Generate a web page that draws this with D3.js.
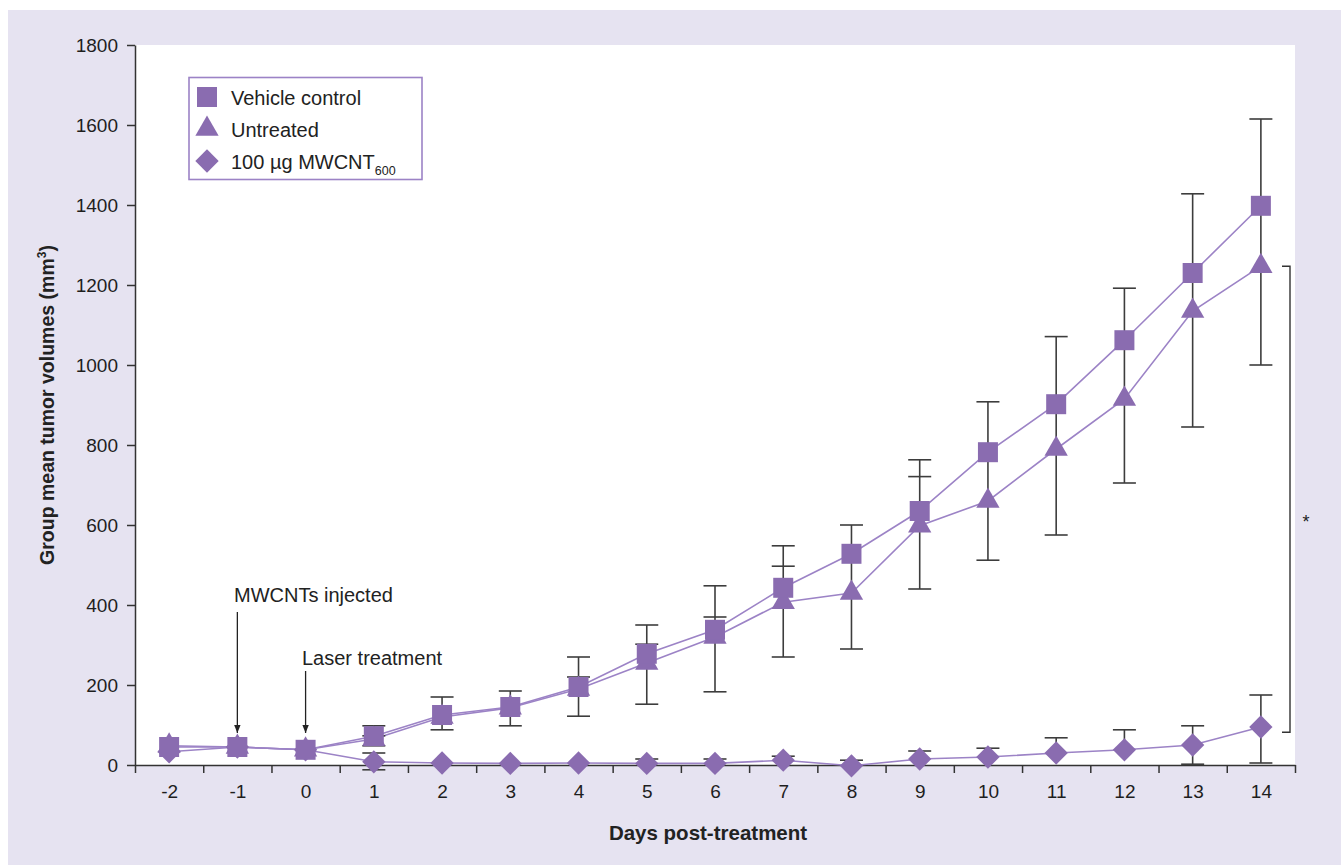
<!DOCTYPE html>
<html>
<head>
<meta charset="utf-8">
<script src="https://cdn.jsdelivr.net/npm/d3@7"></script>
<style>
  html, body { margin: 0; padding: 0; background: #ffffff; }
  svg { display: block; }
  text { font-family: "Liberation Sans", Arial, Helvetica, sans-serif; }
</style>
</head>
<body>
<svg id="chart" width="1341" height="865"></svg>
<script>
// ---------- DATA ----------
const days = [-2, -1, 0, 1, 2, 3, 4, 5, 6, 7, 8, 9, 10, 11, 12, 13, 14];
const yTicks = [0, 200, 400, 600, 800, 1000, 1200, 1400, 1600, 1800];

const vehicle   = [45, 45, 38, 72, 125, 145, 195, 278, 338, 443, 528, 635, 782, 902, 1062, 1230, 1398];
const untreated = [48, 45, 38, 65, 120, 143, 190, 255, 320, 407, 430, 598, 660, 790, 915, 1135, 1247];
const mwcnt     = [33, 45, 38, 8, 5, 4, 5, 4, 4, 12, -2, 15, 20, 30, 38, 50, 95];

// error-bar bounds (absolute mm³); null = not shown
const vehicleHigh   = [null, null, null, 98, 170, 185, 270, 350, 448, 548, 600, 763, 908, 1071, 1192, 1428, 1615];
const untreatedHigh = [null, null, null, 73, null, null, 220, 302, 370, 497, null, 721, null, null, null, null, null];
const untreatedLow  = [null, null, null, 48, 88, 98, 122, 152, 183, 270, 290, 440, 512, 575, 705, 845, 1000];
const mwcntHigh     = [null, null, null, 30, null, null, null, 15, 15, 22, 12, 35, 42, 68, 88, 98, 175];
const mwcntLow      = [null, null, null, -12, null, null, null, null, null, null, null, null, null, null, null, 2, 5];

const legendLabels = ["Vehicle control", "Untreated", "100 µg MWCNT"];
const bracketRange = [82, 1247];

// ---------- LAYOUT ----------
const svg = d3.select("#chart");
const W = 1341, H = 865;
const pLeft = 135, pRight = 1295, pTop = 45, pBottom = 765;
const purple = "#8a6cb0";
const lineColor = "#9c83c6";
const ink = "#333333";

svg.append("rect").attr("x", 8).attr("y", 10).attr("width", W - 8).attr("height", H - 10).attr("fill", "#e6e3f1");
svg.append("rect").attr("x", pLeft).attr("y", pTop).attr("width", pRight - pLeft).attr("height", pBottom - pTop).attr("fill", "#ffffff");

const x = d3.scaleLinear().domain([-2.5, 14.5]).range([pLeft, pRight]);
const y = d3.scaleLinear().domain([0, 1800]).range([pBottom, pTop]);

// ---------- AXES ----------
const yAxis = d3.axisLeft(y).tickValues(yTicks).tickSize(8).tickSizeOuter(0).tickPadding(9).tickFormat(d3.format("d"));
const gy = svg.append("g").attr("transform", `translate(${pLeft},0)`).call(yAxis);
gy.selectAll("text").attr("font-size", 19).attr("fill", "#1e1e1e");
gy.selectAll("path, line").attr("stroke", ink).attr("stroke-width", 1.5);

const xTickAxis = d3.axisBottom(x).tickValues(d3.range(-2.5, 15, 1)).tickSize(8).tickSizeOuter(0).tickFormat("");
const gx = svg.append("g").attr("transform", `translate(0,${pBottom})`).call(xTickAxis);
gx.selectAll("path, line").attr("stroke", ink).attr("stroke-width", 1.5);

const xLabelAxis = d3.axisBottom(x).tickValues(days).tickSize(0).tickPadding(20).tickFormat(d => String(d));
const gxl = svg.append("g").attr("transform", `translate(0,${pBottom})`).call(xLabelAxis);
gxl.select("path").remove();
gxl.selectAll("text").attr("font-size", 19).attr("fill", "#1e1e1e");
gy.attr("font-family", null); gx.attr("font-family", null); gxl.attr("font-family", null);

svg.append("text").attr("x", 708).attr("y", 840).attr("text-anchor", "middle")
  .attr("font-size", 20.5).attr("font-weight", "bold").attr("fill", "#222").text("Days post-treatment");

const yl = svg.append("text").attr("transform", "translate(54,405) rotate(-90)").attr("text-anchor", "middle")
  .attr("font-size", 19.5).attr("font-weight", "bold").attr("fill", "#222");
yl.append("tspan").text("Group mean tumor volumes (mm");
yl.append("tspan").attr("font-size", 12).attr("dy", -8).text("3");
yl.append("tspan").attr("dy", 8).text(")");

// ---------- LINES ----------
const line = d3.line().x((d, i) => x(days[i])).y(d => y(d));
[vehicle, untreated, mwcnt].forEach(s => {
  svg.append("path").attr("d", line(s)).attr("fill", "none").attr("stroke", lineColor).attr("stroke-width", 1.6);
});

// ---------- ERROR BARS ----------
const capW = 23;
const eb = svg.append("g").attr("stroke", "#3d3d3d").attr("stroke-width", 1.6);
function drawBars(groups) {
  days.forEach((d, i) => {
    const vals = [];
    const caps = [];
    groups.forEach(g => {
      vals.push(g.mean[i]);
      if (g.hi && g.hi[i] != null) { vals.push(g.hi[i]); caps.push(g.hi[i]); }
      if (g.lo && g.lo[i] != null) { vals.push(g.lo[i]); caps.push(g.lo[i]); }
    });
    if (!caps.length) return;
    const cx = x(d);
    eb.append("line").attr("x1", cx).attr("x2", cx).attr("y1", y(d3.max(vals))).attr("y2", y(d3.min(vals)));
    caps.forEach(c => eb.append("line").attr("x1", cx - capW / 2).attr("x2", cx + capW / 2).attr("y1", y(c)).attr("y2", y(c)));
  });
}
drawBars([{ mean: vehicle, hi: vehicleHigh }, { mean: untreated, hi: untreatedHigh, lo: untreatedLow }]);
drawBars([{ mean: mwcnt, hi: mwcntHigh, lo: mwcntLow }]);

// ---------- MARKERS ----------
const sq = d3.symbol().type(d3.symbolSquare).size(400)();
const tri = d3.symbol().type(d3.symbolTriangle).size(235)();
const dia = d3.symbol().type(d3.symbolSquare).size(272)();
function markers(s, path, rot) {
  svg.append("g").selectAll("path").data(s).join("path")
    .attr("d", path).attr("fill", purple)
    .attr("transform", (v, i) => `translate(${x(days[i])},${y(v)}) rotate(${rot})`);
}
markers(mwcnt, dia, 45);
markers(untreated, tri, 0);
markers(vehicle, sq, 0);

// ---------- LEGEND ----------
const lg = svg.append("g");
lg.append("rect").attr("x", 189).attr("y", 77.5).attr("width", 233).attr("height", 102)
  .attr("fill", "#ffffff").attr("stroke", lineColor).attr("stroke-width", 1.6);
const legendSyms = [[sq, 0, 97], [tri, 0, 129], [dia, 45, 161]];
legendLabels.forEach((lab, i) => {
  const [p, r, cy] = legendSyms[i];
  lg.append("path").attr("d", p).attr("fill", purple).attr("transform", `translate(207,${cy}) rotate(${r})`);
  const t = lg.append("text").attr("x", 231).attr("y", cy + 8).attr("font-size", 20).attr("fill", "#222").text(lab);
  if (i === 2) t.append("tspan").attr("font-size", 12.5).attr("dy", 6).text("600");
});

// ---------- ANNOTATIONS ----------
svg.append("defs").append("marker").attr("id", "arr").attr("viewBox", "0 0 10 10")
  .attr("refX", 10).attr("refY", 5).attr("markerWidth", 8).attr("markerHeight", 10)
  .attr("markerUnits", "userSpaceOnUse").attr("orient", "auto")
  .append("path").attr("d", "M0,1 L10,5 L0,9 Z").attr("fill", "#222");

svg.append("text").attr("x", 234).attr("y", 602).attr("font-size", 20).attr("fill", "#222").text("MWCNTs injected");
svg.append("line").attr("x1", x(-1)).attr("x2", x(-1)).attr("y1", 612).attr("y2", 733)
  .attr("stroke", "#222").attr("stroke-width", 1.3).attr("marker-end", "url(#arr)");
svg.append("text").attr("x", 302).attr("y", 665).attr("font-size", 20).attr("fill", "#222").text("Laser treatment");
svg.append("line").attr("x1", x(0)).attr("x2", x(0)).attr("y1", 671).attr("y2", 733)
  .attr("stroke", "#222").attr("stroke-width", 1.3).attr("marker-end", "url(#arr)");

// significance bracket
const bx = 1290;
svg.append("path")
  .attr("d", `M${bx - 8},${y(bracketRange[1])} H${bx} V${y(bracketRange[0])} H${bx - 8}`)
  .attr("fill", "none").attr("stroke", "#333").attr("stroke-width", 1.4);
svg.append("text").attr("x", 1306).attr("y", 528).attr("text-anchor", "middle").attr("font-size", 18).attr("fill", "#222").text("*");
</script>
</body>
</html>
